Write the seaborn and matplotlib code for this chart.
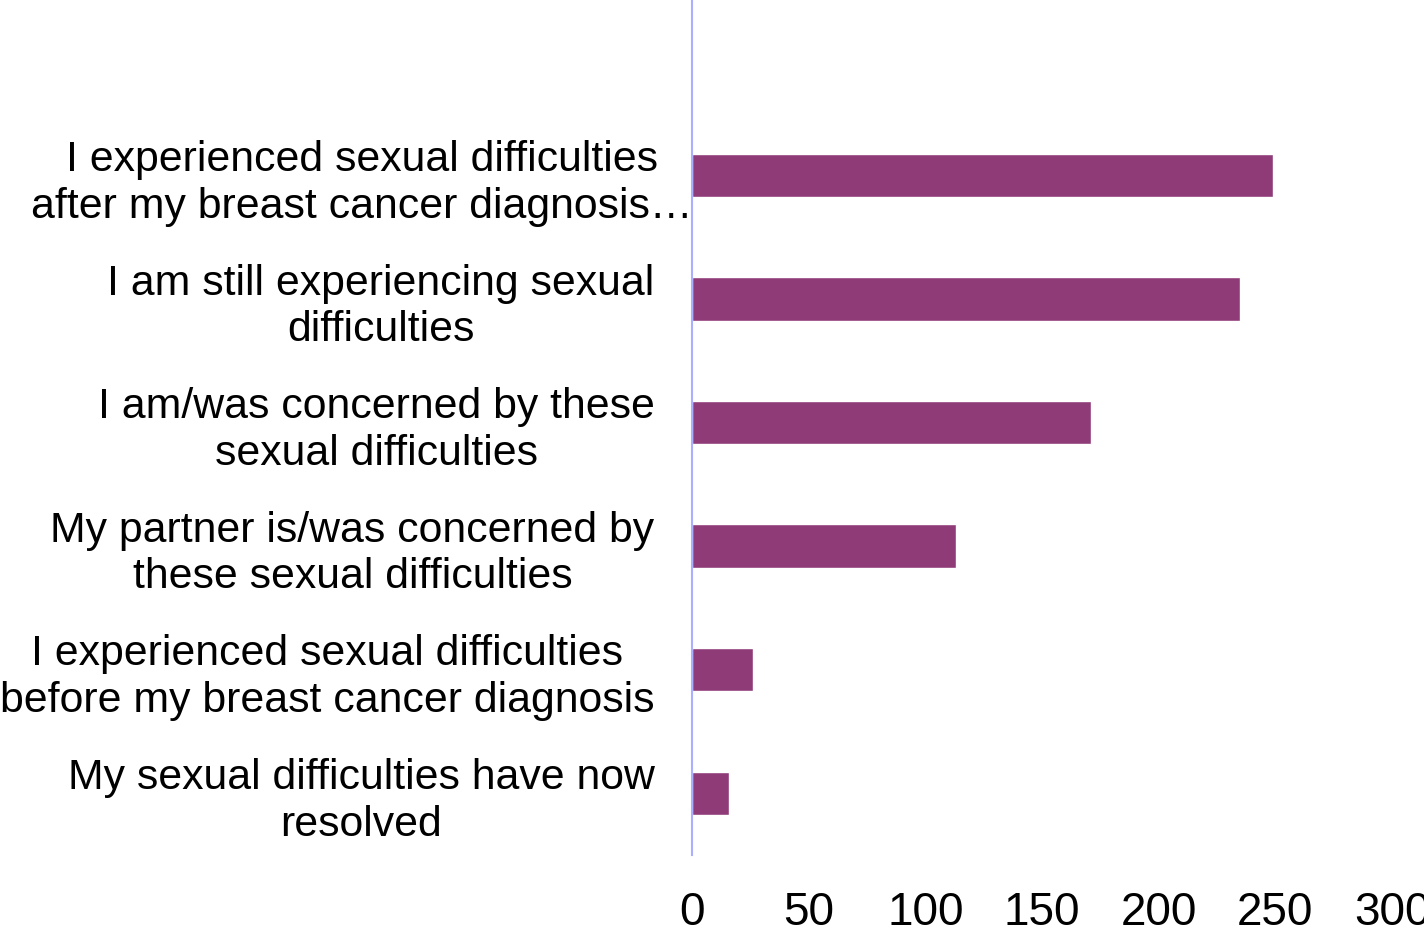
import matplotlib
matplotlib.use("Agg")
import matplotlib.pyplot as plt
import matplotlib.transforms as mtransforms
import seaborn as sns
import pandas as pd

categories = [
    "I experienced sexual difficulties\nafter my breast cancer diagnosis…",
    "I am still experiencing sexual\ndifficulties",
    "I am/was concerned by these\nsexual difficulties",
    "My partner is/was concerned by\nthese sexual difficulties",
    "I experienced sexual difficulties\nbefore my breast cancer diagnosis",
    "My sexual difficulties have now\nresolved",
]
values = [249, 235, 171, 113, 26, 16]
xticks = [0, 50, 100, 150, 200, 250, 300]

sns.set_theme(style="white")
plt.rcParams["font.family"] = ["Liberation Sans", "DejaVu Sans"]

df = pd.DataFrame({"cat": categories, "val": values})

fig = plt.figure(figsize=(14.24, 9.33), dpi=100)
ax = fig.add_axes([692 / 1424, 1 - 855 / 933, 700 / 1424, 855 / 933])
sns.barplot(data=df, y="cat", x="val", orient="h", color="#8E3B78",
            saturation=1, width=0.35, ax=ax)

ax.set_xlim(0, 300)
ax.set_ylim(5.5, -1.42)
ax.set_xticks(xticks)
ax.set_xticklabels([str(t) for t in xticks], fontsize=33)
ax.set_xlabel("")
ax.set_ylabel("")
ax.tick_params(axis="x", length=0, pad=26)
ax.tick_params(axis="y", length=0, pad=27)
for lbl in ax.get_yticklabels():
    lbl.set_fontsize(30.8)
    lbl.set_multialignment("center")
    lbl.set_linespacing(1.22)
    lbl.set_color("black")
for lbl in ax.get_xticklabels():
    lbl.set_color("black")

first = ax.get_yticklabels()[0]
first.set_transform(first.get_transform() +
                    mtransforms.ScaledTranslation(38 / 100, 0, fig.dpi_scale_trans))

for s in ["top", "right", "bottom"]:
    ax.spines[s].set_visible(False)
ax.spines["left"].set_color("#AAB0FF")
ax.spines["left"].set_linewidth(1.5)
ax.grid(False)

fig.savefig("out.png", dpi=100)
